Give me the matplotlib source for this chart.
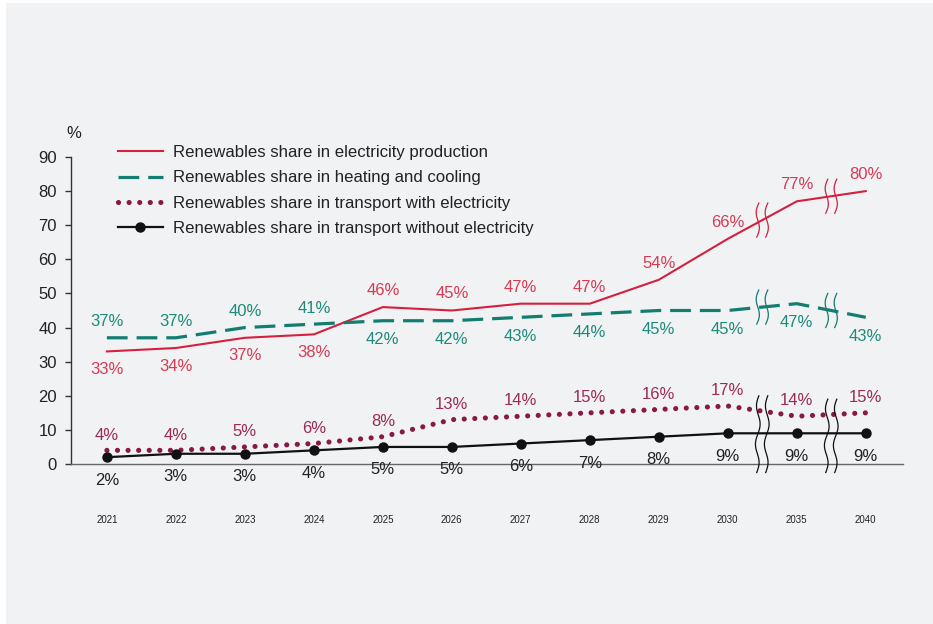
import numpy as np
import matplotlib
matplotlib.use("Agg")
import matplotlib.pyplot as plt
from matplotlib.patches import Rectangle

plt.rcParams['font.family'] = ['Liberation Sans', 'DejaVu Sans']

years = ["2021", "2022", "2023", "2024", "2025", "2026", "2027", "2028", "2029", "2030", "2035", "2040"]
electricity = [33, 34, 37, 38, 46, 45, 47, 47, 54, 66, 77, 80]
heating = [37, 37, 40, 41, 42, 42, 43, 44, 45, 45, 47, 43]
transport_with = [4, 4, 5, 6, 8, 13, 14, 15, 16, 17, 14, 15]
transport_without = [2, 3, 3, 4, 5, 5, 6, 7, 8, 9, 9, 9]
yticks = [0, 10, 20, 30, 40, 50, 60, 70, 80, 90]
series_names = ["Renewables share in electricity production",
                "Renewables share in heating and cooling",
                "Renewables share in transport with electricity",
                "Renewables share in transport without electricity"]

RED = '#d4203f'
RED_T = '#d83a52'
TEAL = '#127d70'
TEAL_T = '#1d8a7c'
MAROON = '#8a1846'
MAROON_T = '#9a2a57'
BLACK = '#111111'

W, H = 933, 624
fig = plt.figure(figsize=(W / 100, H / 100), dpi=100, facecolor='white')
fig.patches.append(Rectangle((6 / W, 0), 1 - 6 / W, 1 - 3 / H, transform=fig.transFigure,
                             facecolor='#f1f2f4', edgecolor='none', zorder=-10))

ax = fig.add_axes([71 / W, 1 - 464 / H, (903 - 71) / W, (464 - 157) / H])
ax.set_facecolor('none')
x = np.arange(len(years))

l1, = ax.plot(x, electricity, color=RED, lw=1.5, zorder=3)
l2, = ax.plot(x, heating, color=TEAL, lw=2.3, linestyle=(0, (6.5, 2.8)), zorder=3)
l3, = ax.plot(x, transport_with, color=MAROON, lw=3.7, linestyle=(0, (0.01, 2.05)),
              dash_capstyle='round', zorder=3)
l4, = ax.plot(x, transport_without, color=BLACK, lw=1.6, marker='o', markersize=6.5, zorder=4)

ax.set_xlim(-0.52, 11.54)
ax.set_ylim(0, 90)
ax.set_yticks(yticks)
ax.set_xticks(x)
ax.set_xticklabels(years, fontsize=7, color='#222222')
ax.tick_params(axis='x', length=0, pad=37)
ax.tick_params(axis='y', length=4.5, width=1, color='#333333', labelsize=12, pad=5.5,
               labelcolor='#222222')
for s in ['top', 'right']:
    ax.spines[s].set_visible(False)
ax.spines['left'].set_color('#333333')
ax.spines['bottom'].set_color('#666666')
ax.spines['left'].set_linewidth(1)
ax.spines['bottom'].set_linewidth(1)

fig.text(66 / W, 1 - 133 / H, "%", fontsize=12, ha='left', va='center', color='#222222')

fs = 12
for i in range(len(years)):
    off = -13 if i < 4 else 12
    ax.annotate(f"{electricity[i]}%", (x[i], electricity[i]), xytext=(0, off),
                textcoords='offset points', ha='center', va='center', fontsize=fs, color=RED_T)
    off = 11.5 if i < 4 else -13.5
    ax.annotate(f"{heating[i]}%", (x[i], heating[i]), xytext=(0, off),
                textcoords='offset points', ha='center', va='center', fontsize=fs, color=TEAL_T)
    ax.annotate(f"{transport_with[i]}%", (x[i], transport_with[i]), xytext=(0, 11),
                textcoords='offset points', ha='center', va='center', fontsize=fs, color=MAROON_T)
    ax.annotate(f"{transport_without[i]}%", (x[i], transport_without[i]), xytext=(0, -16.5),
                textcoords='offset points', ha='center', va='center', fontsize=fs, color='#222222')


def draw_break(xc, ylo, yhi, color, lw=0.9, periods=1.0, amp=0.03):
    t = np.linspace(0, 1, 60)
    yy = ylo + (yhi - ylo) * t
    for d in (-0.065, 0.065):
        xx = xc + d + amp * np.sin(2 * np.pi * t * periods) + 0.03 * (t - 0.5)
        ax.plot(xx, yy, color=color, lw=lw, clip_on=False, zorder=5)


for k in (9, 10):
    xc = k + 0.5
    e_mid = (electricity[k] + electricity[k + 1]) / 2
    h_mid = (heating[k] + heating[k + 1]) / 2
    draw_break(xc, e_mid - 5, e_mid + 5, RED)
    draw_break(xc, h_mid - 5, h_mid + 5, TEAL)
    draw_break(xc, -2.5, (transport_with[k] + transport_with[k + 1]) / 2 + 4.5, BLACK,
               periods=2.0, amp=0.03)

leg = ax.legend([l1, l2, l3, l4], series_names, loc='upper left',
                bbox_to_anchor=((118 - 71) / 832, (464 - 145) / 307), frameon=False,
                fontsize=12.1, handlelength=2.65, handletextpad=0.6, labelspacing=0.62,
                borderpad=0, borderaxespad=0, numpoints=1)
for t in leg.get_texts():
    t.set_color('#222222')

fig.savefig("out.png", dpi=100, facecolor=fig.get_facecolor())
